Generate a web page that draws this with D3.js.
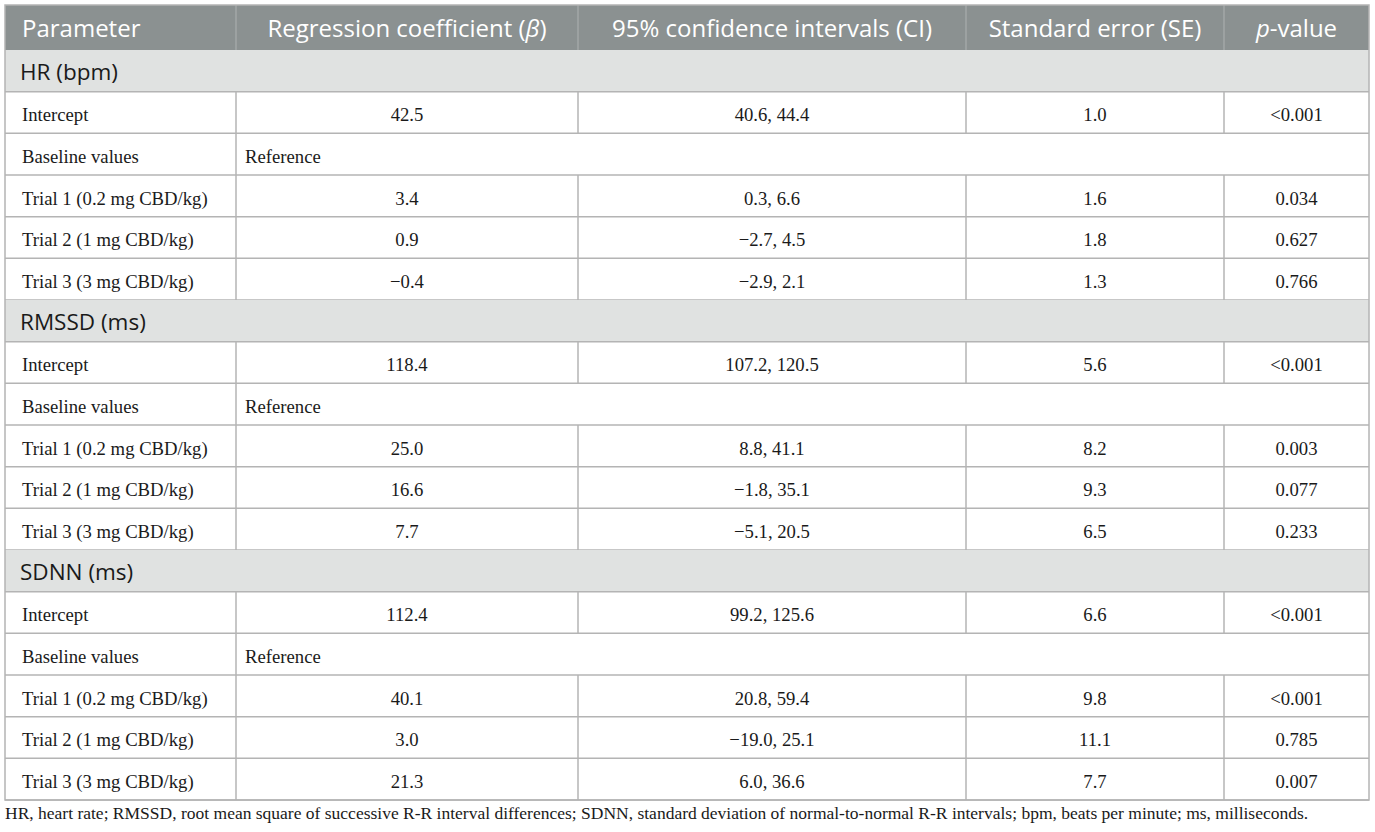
<!DOCTYPE html>
<html><head><meta charset="utf-8">
<script src="https://cdn.jsdelivr.net/npm/d3@7"></script>
<style>
html,body{margin:0;padding:0;background:#fff;}
svg{display:block;}
</style></head>
<body>
<svg id="chart" width="1375" height="832"></svg>
<script>
// ---- data ----
const columnHeaders = ["Parameter", "Regression coefficient (β)", "95% confidence intervals (CI)", "Standard error (SE)", "p-value"];
const groups = ["HR (bpm)", "RMSSD (ms)", "SDNN (ms)"];
const rowLabels = ["Intercept", "Baseline values", "Trial 1 (0.2 mg CBD/kg)", "Trial 2 (1 mg CBD/kg)", "Trial 3 (3 mg CBD/kg)"];
const referenceText = "Reference";
const betaValues = [
  ["42.5", null, "3.4", "0.9", "−0.4"],
  ["118.4", null, "25.0", "16.6", "7.7"],
  ["112.4", null, "40.1", "3.0", "21.3"]
];
const ciValues = [
  ["40.6, 44.4", null, "0.3, 6.6", "−2.7, 4.5", "−2.9, 2.1"],
  ["107.2, 120.5", null, "8.8, 41.1", "−1.8, 35.1", "−5.1, 20.5"],
  ["99.2, 125.6", null, "20.8, 59.4", "−19.0, 25.1", "6.0, 36.6"]
];
const seValues = [
  ["1.0", null, "1.6", "1.8", "1.3"],
  ["5.6", null, "8.2", "9.3", "6.5"],
  ["6.6", null, "9.8", "11.1", "7.7"]
];
const pValues = [
  ["<0.001", null, "0.034", "0.627", "0.766"],
  ["<0.001", null, "0.003", "0.077", "0.233"],
  ["<0.001", null, "<0.001", "0.785", "0.007"]
];
const footnote = "HR, heart rate; RMSSD, root mean square of successive R-R interval differences; SDNN, standard deviation of normal-to-normal R-R intervals; bpm, beats per minute; ms, milliseconds.";

// ---- layout ----
const svg = d3.select("#chart");
const colEdges = [5, 236, 578, 966, 1224, 1369];
const tableTop = 5, headerBottom = 50, tableBottom = 800;
const sans = "'Open Sans', sans-serif";
const serif = "'Liberation Serif', 'Times New Roman', serif";
const borderColor = "#b4b4b4";
const bodySize = 18.7;

// build row list
const rows = [];
groups.forEach((g, gi) => {
  rows.push({type: "group", label: g});
  rowLabels.forEach((r, ri) => {
    if (betaValues[gi][ri] === null) rows.push({type: "ref", label: r});
    else rows.push({type: "data", label: r, cells: [betaValues[gi][ri], ciValues[gi][ri], seValues[gi][ri], pValues[gi][ri]]});
  });
});

const y = d3.scaleLinear().domain([0, rows.length]).range([headerBottom, tableBottom]);
const rowH = y(1) - y(0);
const colMid = i => (colEdges[i] + colEdges[i + 1]) / 2;

// header
svg.append("rect").attr("x", colEdges[0]).attr("y", tableTop)
  .attr("width", colEdges[5] - colEdges[0]).attr("height", headerBottom - tableTop)
  .attr("fill", "#8b9191");
for (let i = 1; i < 5; i++) {
  svg.append("line").attr("x1", colEdges[i]).attr("x2", colEdges[i])
    .attr("y1", tableTop).attr("y2", headerBottom)
    .attr("stroke", "#a9aeae").attr("stroke-width", 1.2);
}
const hdr = svg.append("g").attr("font-family", sans).attr("font-size", 24).attr("fill", "#fff");
columnHeaders.forEach((h, i) => {
  const t = hdr.append("text").attr("y", tableTop + 32)
    .attr("x", i === 0 ? colEdges[0] + 17 : colMid(i))
    .attr("text-anchor", i === 0 ? "start" : "middle");
  if (i === 1) {
    t.append("tspan").text("Regression coefficient (");
    t.append("tspan").attr("font-style", "italic").text("β");
    t.append("tspan").text(")");
  } else if (i === 4) {
    t.append("tspan").attr("font-style", "italic").text("p");
    t.append("tspan").text("-value");
  } else t.text(h);
});

// body rows
rows.forEach((r, k) => {
  const y0 = y(k), y1 = y(k + 1);
  const g = svg.append("g");
  if (r.type === "group") {
    g.append("rect").attr("x", colEdges[0]).attr("y", y0).attr("width", colEdges[5] - colEdges[0])
      .attr("height", rowH).attr("fill", "#e0e2e1");
    g.append("text").attr("x", colEdges[0] + 15).attr("y", y0 + 29.5)
      .attr("font-family", sans).attr("font-size", 22.5).attr("fill", "#1a1a1a").text(r.label);
  } else {
    g.append("text").attr("x", colEdges[0] + 17).attr("y", y0 + 29.5)
      .attr("font-family", serif).attr("font-size", bodySize).attr("fill", "#1a1a1a").text(r.label);
    const dividers = r.type === "ref" ? [1] : [1, 2, 3, 4];
    dividers.forEach(i => {
      g.append("line").attr("x1", colEdges[i]).attr("x2", colEdges[i]).attr("y1", y0).attr("y2", y1)
        .attr("stroke", borderColor).attr("stroke-width", 1.5);
    });
    if (r.type === "ref") {
      g.append("text").attr("x", colEdges[1] + 9).attr("y", y0 + 29.5)
        .attr("font-family", serif).attr("font-size", bodySize).attr("fill", "#1a1a1a").text(referenceText);
    } else {
      r.cells.forEach((c, ci) => {
        g.append("text").attr("x", colMid(ci + 1)).attr("y", y0 + 29.5).attr("text-anchor", "middle")
          .attr("font-family", serif).attr("font-size", bodySize).attr("fill", "#1a1a1a").text(c);
      });
    }
  }
  // bottom rule
  svg.append("line").attr("x1", colEdges[0]).attr("x2", colEdges[5]).attr("y1", y1).attr("y2", y1)
    .attr("stroke", borderColor).attr("stroke-width", 1.5);
});

// outer border
svg.append("rect").attr("x", colEdges[0]).attr("y", tableTop)
  .attr("width", colEdges[5] - colEdges[0]).attr("height", tableBottom - tableTop)
  .attr("fill", "none").attr("stroke", borderColor).attr("stroke-width", 1.5);

// footnote
svg.append("text").attr("x", colEdges[0]).attr("y", 819)
  .attr("font-family", serif).attr("font-size", 17.5).attr("fill", "#1a1a1a").text(footnote);
</script>
</body></html>
